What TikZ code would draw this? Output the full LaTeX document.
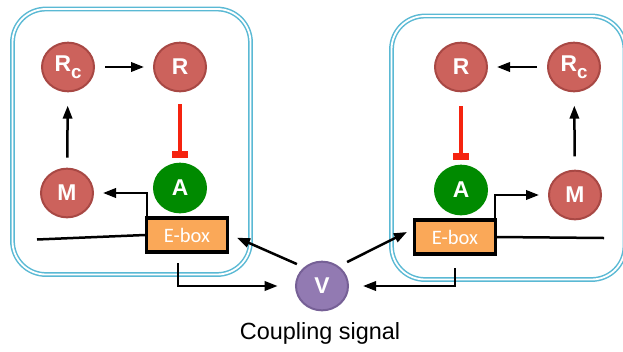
\documentclass[tikz,border=0pt]{standalone}
\usepackage{fontspec}
\setmainfont{Liberation Sans}
\newfontfamily\eboxfont{Carlito}
\usetikzlibrary{arrows.meta,shapes.geometric}
\definecolor{cellblue}{RGB}{90,185,212}
\definecolor{protred}{RGB}{204,98,92}
\definecolor{protredd}{RGB}{168,72,68}
\definecolor{actgreen}{RGB}{0,138,0}
\definecolor{vpurple}{RGB}{146,122,178}
\definecolor{vpurpled}{RGB}{118,96,150}
\definecolor{eboxorange}{RGB}{250,168,88}
\definecolor{inhred}{RGB}{245,35,15}
\newcommand{\Rc}{R\raisebox{-0.32em}{\fontsize{16}{17}\selectfont c}}
\begin{document}
\begin{tikzpicture}[x=0.3mm,y=-0.3mm,>={Triangle[length=3.9mm,width=2.8mm]},
  prot/.style={ellipse,draw=protredd,fill=protred,line width=0.6mm,minimum width=15.6mm,minimum height=14.6mm,inner sep=0pt,text=white,font=\fontsize{19.5}{20}\selectfont\bfseries},
  act/.style={prot,draw=actgreen,fill=actgreen},
  sig/.style={prot,draw=vpurpled,fill=vpurple},
  ebox/.style={draw=black,fill=eboxorange,line width=1mm,minimum width=24.2mm,minimum height=10.2mm,inner sep=0pt,text=white,font=\eboxfont\fontsize{17.5}{18}\selectfont},
  cell/.style={draw=cellblue,double=white,line width=0.45mm,double distance=0.55mm,rounded corners=10mm},
  link/.style={->,line width=0.75mm},
  inhib/.style={-{Rectangle[length=2.1mm,width=4.6mm]},draw=inhred,line width=0.95mm}]
  \clip (0,0) rectangle (623,351);

  % cells
  \draw[cell] (12.5,9) rectangle (250.5,274.5);
  \draw[cell] (391.5,16) rectangle (625,279.5);

  % left oscillator
  \node[prot] (rcl) at (68,67) {\Rc};
  \node[prot] (rl) at (180,67) {R};
  \node[prot] (ml) at (67,193) {M};
  \node[act] (al) at (180,188) {A};
  \node[ebox] (el) at (187,235) {E-box};

  % right oscillator
  \node[prot] (rr) at (461,67) {R};
  \node[prot] (rcr) at (574,67) {\Rc};
  \node[prot] (mr) at (575,195) {M};
  \node[act] (ar) at (461,190) {A};
  \node[ebox] (er) at (455,237) {E-box};

  % coupling
  \node[sig] (v) at (322,286) {V};
  \node[font=\fontsize{20}{22}\selectfont] (cs) at (320,333) {Coupling signal};

  \coordinate (dnal) at (37,239.5);
  \coordinate (dnar) at (604,238);

  \draw[link,shorten <=3mm,shorten >=2.7mm] (rcl) -- (rl);
  \draw[link,shorten <=3mm,shorten >=4mm] (ml) -- (rcl);
  \draw[inhib] (rl.south) ++(0,12) -- (180,158);
  \draw[link,shorten >=2.7mm] (el.north west) ++(2,0) |- (ml);
  \draw[line width=0.75mm] (dnal) -- (el.west);
  \draw[link,shorten >=5.2mm] (178,263) |- (v.west);

  \draw[link,shorten <=3mm,shorten >=2.7mm] (rcr) -- (rr);
  \draw[link,shorten <=4mm,shorten >=4mm] (mr) -- (rcr);
  \draw[inhib] (rr.south) ++(0,14) -- (461,160);
  \draw[link,shorten >=2.7mm] (er.north east) ++(-2,0) |- (mr);
  \draw[line width=0.75mm] (er.east) -- (dnar);
  \draw[link,shorten >=4.2mm] (455,268) |- (v.east);

  \draw[link] (v.north west) ++(-6,-4) -- ([xshift=2.4mm,yshift=-0.8mm]el.east);
  \draw[link] (v.north east) ++(6,-6) -- ([xshift=-1.8mm,yshift=1.5mm]er.west);
\end{tikzpicture}
\end{document}
